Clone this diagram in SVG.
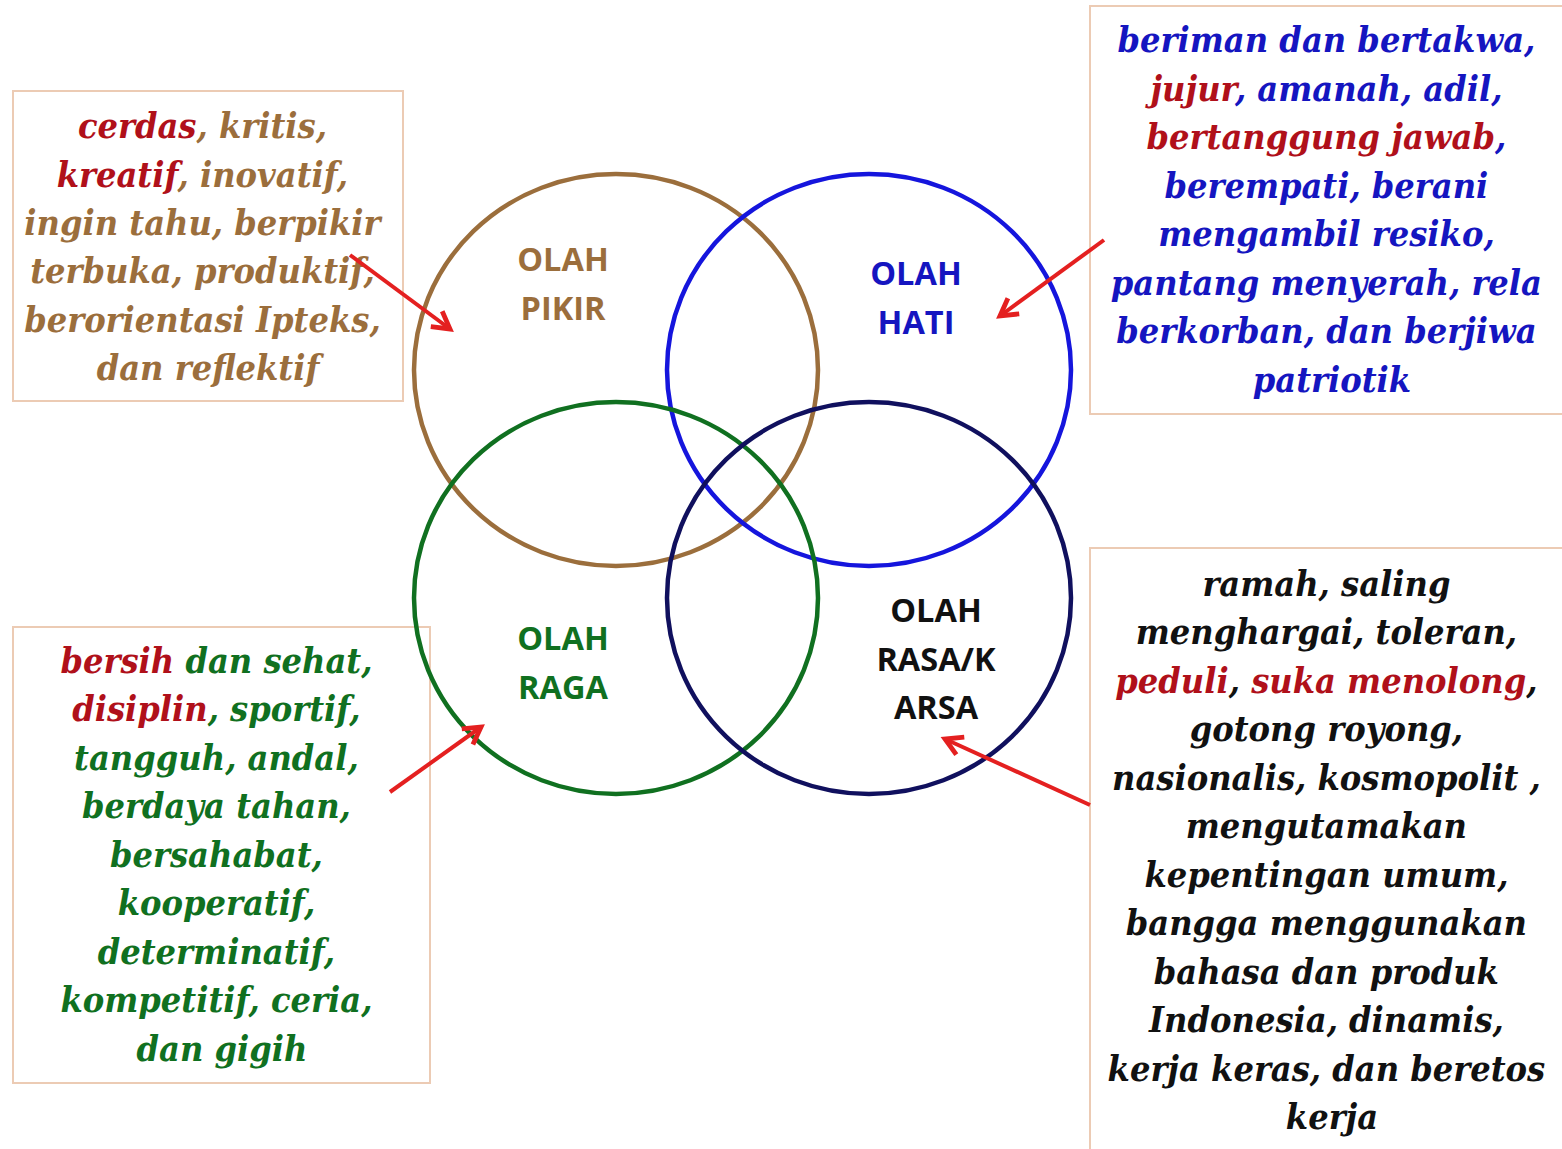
<svg xmlns="http://www.w3.org/2000/svg" width="1562" height="1149" viewBox="0 0 1562 1149">
<defs>
<style>
.box{fill:#ffffff;stroke:#eccbb4;stroke-width:2}
.t{font-family:"DejaVu Serif Condensed","DejaVu Serif","Liberation Serif",serif;font-weight:bold;font-style:italic;font-size:35.8px;text-anchor:middle}
.lbl{font-family:"Open Sans","Liberation Sans",sans-serif;font-weight:bold;font-size:32.5px;text-anchor:middle}
.r{fill:#b0101a}
.circ{fill:none;stroke-width:4.5}
.arr{stroke:#e42020;stroke-width:4;fill:none;marker-end:url(#ah)}
</style>
<marker id="ah" viewBox="0 0 10 10" refX="8" refY="5" markerWidth="6" markerHeight="6" orient="auto" markerUnits="strokeWidth">
<path d="M1,1 L8,5 L1,9" fill="none" stroke="#e42020" stroke-width="2"/>
</marker>
</defs>
<rect width="1562" height="1149" fill="#ffffff"/>

<g id="box-pikir">
<rect class="box" x="13" y="91" width="390" height="310"/>
<text class="t" fill="#9b6e3c">
<tspan x="208" y="138"><tspan class="r">cerdas</tspan>, kritis,</tspan>
<tspan x="208" y="187"><tspan class="r">kreatif</tspan>, inovatif,</tspan>
<tspan x="208" y="235">ingin tahu, berpikir</tspan>
<tspan x="208" y="283">terbuka, produktif,</tspan>
<tspan x="208" y="332">berorientasi Ipteks,</tspan>
<tspan x="208" y="380">dan reflektif</tspan>
</text>
</g>

<g id="box-hati">
<rect class="box" x="1090" y="6" width="480" height="408"/>
<text class="t" fill="#1515c0">
<tspan x="1332" y="52">beriman dan bertakwa,</tspan>
<tspan x="1332" y="101"><tspan class="r">jujur</tspan>, amanah, adil,</tspan>
<tspan x="1332" y="149"><tspan class="r">bertanggung jawab</tspan>,</tspan>
<tspan x="1332" y="198">berempati, berani</tspan>
<tspan x="1332" y="246">mengambil resiko,</tspan>
<tspan x="1332" y="295">pantang menyerah, rela</tspan>
<tspan x="1332" y="343">berkorban, dan berjiwa</tspan>
<tspan x="1332" y="392">patriotik</tspan>
</text>
</g>

<g id="box-raga">
<rect class="box" x="13" y="627" width="417" height="456"/>
<text class="t" fill="#107020">
<tspan x="222" y="673"><tspan class="r">bersih</tspan> dan sehat,</tspan>
<tspan x="222" y="721"><tspan class="r">disiplin</tspan>, sportif,</tspan>
<tspan x="222" y="770">tangguh, andal,</tspan>
<tspan x="222" y="818">berdaya tahan,</tspan>
<tspan x="222" y="867">bersahabat,</tspan>
<tspan x="222" y="915">kooperatif,</tspan>
<tspan x="222" y="964">determinatif,</tspan>
<tspan x="222" y="1012">kompetitif, ceria,</tspan>
<tspan x="222" y="1061">dan gigih</tspan>
</text>
</g>

<g id="box-rasa">
<rect class="box" x="1090" y="548" width="480" height="610"/>
<text class="t" fill="#111111">
<tspan x="1332" y="596">ramah, saling</tspan>
<tspan x="1332" y="644">menghargai, toleran,</tspan>
<tspan x="1332" y="693"><tspan class="r">peduli</tspan>,  <tspan class="r">suka menolong</tspan>,</tspan>
<tspan x="1332" y="741">gotong royong,</tspan>
<tspan x="1332" y="790">nasionalis, kosmopolit ,</tspan>
<tspan x="1332" y="838">mengutamakan</tspan>
<tspan x="1332" y="887">kepentingan umum,</tspan>
<tspan x="1332" y="935">bangga menggunakan</tspan>
<tspan x="1332" y="984">bahasa dan produk</tspan>
<tspan x="1332" y="1032">Indonesia, dinamis,</tspan>
<tspan x="1332" y="1081">kerja keras, dan beretos</tspan>
<tspan x="1332" y="1129">kerja</tspan>
</text>
</g>

<g id="olah-pikir">
<ellipse class="circ" cx="616" cy="370" rx="202" ry="196" stroke="#9b6e3c"/>
<text class="lbl" fill="#9b6e3c"><tspan x="563" y="271">OLAH</tspan><tspan x="563" y="320">PIKIR</tspan></text>
</g>
<g id="olah-hati">
<ellipse class="circ" cx="869" cy="370" rx="202" ry="196" stroke="#1515dd"/>
<text class="lbl" fill="#1515c0"><tspan x="916" y="285">OLAH</tspan><tspan x="916" y="334">HATI</tspan></text>
</g>
<g id="olah-raga">
<ellipse class="circ" cx="616" cy="598" rx="202" ry="196" stroke="#107020"/>
<text class="lbl" fill="#107020"><tspan x="563" y="650">OLAH</tspan><tspan x="563" y="699">RAGA</tspan></text>
</g>
<g id="olah-rasa">
<ellipse class="circ" cx="869" cy="598" rx="202" ry="196" stroke="#10105e"/>
<text class="lbl" fill="#111111"><tspan x="936" y="622">OLAH</tspan><tspan x="936" y="671">RASA/K</tspan><tspan x="936" y="719">ARSA</tspan></text>
</g>

<g id="connectors">
<line class="arr" x1="350" y1="255" x2="450" y2="329"/>
<line class="arr" x1="1104" y1="240" x2="1000" y2="316"/>
<line class="arr" x1="390" y1="792" x2="481" y2="727"/>
<line class="arr" x1="1090" y1="805" x2="945" y2="739"/>
</g>
</svg>
